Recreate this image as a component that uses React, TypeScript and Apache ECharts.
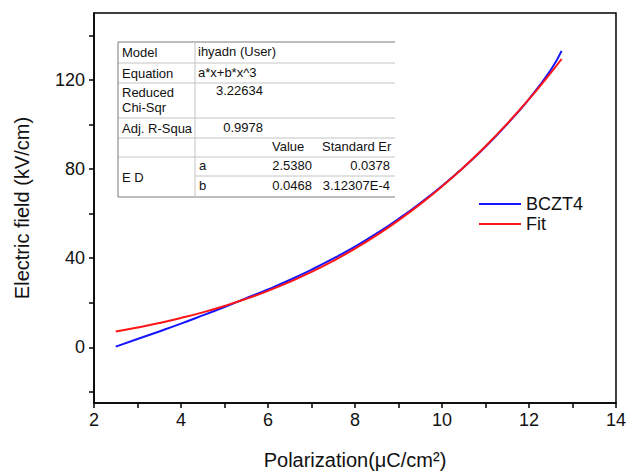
import React, { useEffect, useRef } from "react";
import * as echarts from "echarts";

// ---- data ----
const polarization = [2.5, 3, 3.5, 4, 4.5, 5, 5.5, 6, 6.5, 7, 7.5, 8, 8.5, 9, 9.5, 10, 10.5, 11, 11.5, 12, 12.5, 12.75];
const bczt4 = [0.3, 3.7, 7.1, 10.6, 14.3, 18.1, 22.0, 26.0, 30.2, 34.8, 39.8, 45.2, 51.1, 57.6, 64.7, 72.4, 80.8, 90.0, 100.2, 111.4, 124.4, 133.0];
const fitValues = [7.08, 8.87, 10.89, 13.15, 15.68, 18.54, 21.75, 25.34, 29.35, 33.82, 38.78, 44.26, 50.31, 56.96, 64.23, 72.18, 80.82, 90.21, 100.37, 111.33, 123.14, 129.36];

const xLabelValues = [2, 4, 6, 8, 10, 12, 14];
const yLabelValues = [0, 40, 80, 120];
const yTickValues = [-20, 0, 20, 40, 60, 80, 100, 120, 140];

// fit report table
const modelName = "ihyadn (User)";
const equationText = "a*x+b*x^3";
const chiSqrText = "3.22634";
const adjR2Text = "0.9978";
const paramNames = ["a", "b"];
const paramValues = ["2.5380", "0.0468"];
const paramErrors = ["0.0378", "3.12307E-4"];

const FONT = "'Liberation Sans', Arial, sans-serif";

export default function App() {
  const ref = useRef<HTMLDivElement>(null);
  useEffect(() => {
    if (!ref.current) return;
    const chart = echarts.init(ref.current, null, { renderer: "svg" });

    const L = 118, C2 = 195, R = 395;
    const rows = [42, 63, 83, 118, 138, 157, 176, 197];
    const tf = (text: string, x: number, y: number, align = "left") => ({
      type: "text",
      z: 110,
      style: { text, x, y, fill: "#111", fontSize: 13, fontFamily: FONT, align, verticalAlign: "middle" },
    });
    const hl = (x1: number, y: number, x2: number, c = "#c4c4c4") => ({
      type: "line",
      z: 105,
      shape: { x1, y1: y, x2, y2: y },
      style: { stroke: c, lineWidth: 1 },
    });
    const graphics: any[] = [
      { type: "rect", z: 100, shape: { x: L, y: rows[0], width: R - L, height: rows[7] - rows[0] }, style: { fill: "#fff" } },
      hl(L, rows[0], R, "#7a7a7a"),
      hl(L, rows[1], R),
      hl(L, rows[2], R),
      hl(L, rows[3], R),
      hl(L, rows[4], R),
      hl(L, rows[5], R),
      hl(C2, rows[6], R),
      hl(L, rows[7], R, "#7a7a7a"),
      { type: "line", z: 105, shape: { x1: L, y1: rows[0], x2: L, y2: rows[7] }, style: { stroke: "#7a7a7a", lineWidth: 1 } },
      { type: "line", z: 105, shape: { x1: C2, y1: rows[0], x2: C2, y2: rows[7] }, style: { stroke: "#c4c4c4", lineWidth: 1 } },
      tf("Model", 122, 52),
      tf(modelName, 198, 51),
      tf("Equation", 122, 73),
      tf(equationText, 198, 72),
      tf("Reduced", 122, 92),
      tf("Chi-Sqr", 122, 107),
      tf(chiSqrText, 263, 90, "right"),
      tf("Adj. R-Squa", 122, 128),
      tf(adjR2Text, 263, 127, "right"),
      tf("Value", 272, 146),
      tf("Standard Er", 322, 146),
      tf("E D", 122, 177),
      tf(paramNames[0], 199, 165),
      tf(paramValues[0], 312, 165, "right"),
      tf(paramErrors[0], 390, 165, "right"),
      tf(paramNames[1], 199, 185),
      tf(paramValues[1], 312, 185, "right"),
      tf(paramErrors[1], 390, 185, "right"),
    ];

    chart.setOption({
      animation: false,
      backgroundColor: "#fff",
      textStyle: { fontFamily: FONT },
      grid: { left: 94, right: 11, top: 13, bottom: 72, show: true, borderColor: "#000", borderWidth: 1.5, containLabel: false },
      legend: {
        orient: "vertical",
        left: 474,
        top: 190,
        icon: "rect",
        itemWidth: 42,
        itemHeight: 2,
        itemGap: 2,
        textStyle: { fontSize: 18, color: "#111", fontFamily: FONT },
        data: ["BCZT4", "Fit"],
      },
      xAxis: {
        type: "value",
        min: 2,
        max: 14,
        interval: 1,
        name: "Polarization(μC/cm²)",
        nameLocation: "middle",
        nameGap: 47,
        nameTextStyle: { fontSize: 20, color: "#111", fontFamily: FONT },
        axisLine: { onZero: false, lineStyle: { color: "#000", width: 1.5 } },
        axisTick: { length: 5, lineStyle: { color: "#000", width: 1.5 } },
        axisLabel: { customValues: xLabelValues, fontSize: 18, color: "#111", margin: 8, fontFamily: FONT },
        splitLine: { show: false },
      },
      yAxis: {
        type: "value",
        min: -25,
        max: 150,
        name: "Electric field (kV/cm)",
        nameLocation: "middle",
        nameGap: 62,
        nameTextStyle: { fontSize: 20, color: "#111", fontFamily: FONT },
        axisLine: { onZero: false, lineStyle: { color: "#000", width: 1.5 } },
        axisTick: { customValues: yTickValues, length: 5, lineStyle: { color: "#000", width: 1.5 } },
        axisLabel: { customValues: yLabelValues, fontSize: 18, color: "#111", margin: 9, fontFamily: FONT },
        splitLine: { show: false },
      },
      series: [
        {
          name: "BCZT4",
          type: "line",
          smooth: true,
          symbol: "none",
          lineStyle: { color: "#1515ff", width: 2 },
          itemStyle: { color: "#1515ff" },
          data: polarization.map((x, i) => [x, bczt4[i]]),
          z: 2,
        },
        {
          name: "Fit",
          type: "line",
          smooth: true,
          symbol: "none",
          lineStyle: { color: "#ff1515", width: 2 },
          itemStyle: { color: "#ff1515" },
          data: polarization.map((x, i) => [x, fitValues[i]]),
          z: 3,
        },
      ],
      graphic: graphics,
    });
    return () => chart.dispose();
  }, []);
  return <div ref={ref} style={{ position: "fixed", left: 0, top: 0, width: 629, height: 475 }} />;
}
